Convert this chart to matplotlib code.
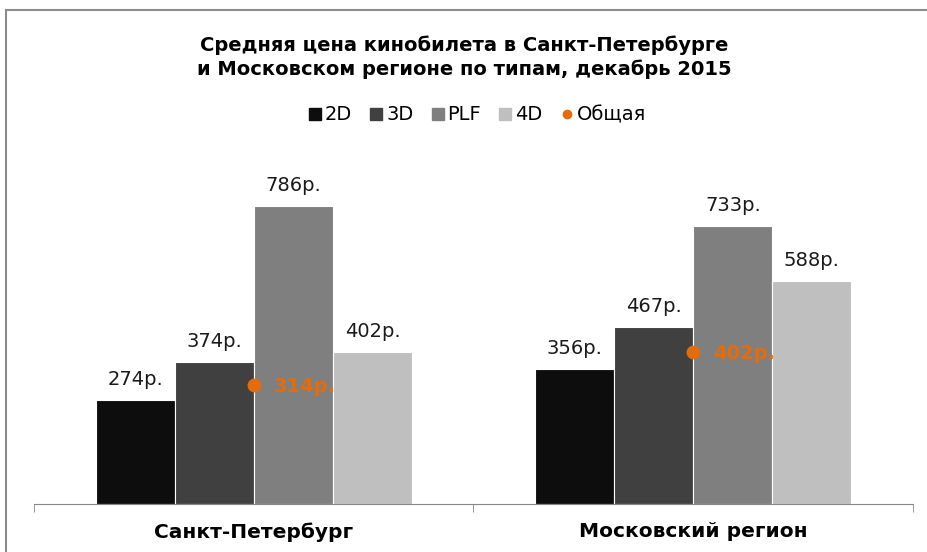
import matplotlib.pyplot as plt
from matplotlib.patches import Rectangle
from matplotlib.lines import Line2D

# data
regions = ["Санкт-Петербург", "Московский регион"]
types = ["2D", "3D", "PLF", "4D"]
prices = {
    "2D": [274, 356],
    "3D": [374, 467],
    "PLF": [786, 733],
    "4D": [402, 588],
}
overall = [314, 402]

colors = ["#0d0d0d", "#404040", "#7f7f7f", "#bfbfbf"]
orange = "#e46c0a"

fig = plt.figure(figsize=(9.28, 5.52), dpi=100)
ax = fig.add_axes([34 / 928, 48 / 552, 879 / 928, 341 / 552])

bar_w = 0.18
offsets = [-1.5, -0.5, 0.5, 1.5]
for t, off, c in zip(types, offsets, colors):
    xs = [i + off * bar_w for i in range(len(regions))]
    bars = ax.bar(xs, prices[t], width=bar_w, color=c, edgecolor="white", linewidth=0.8)
    for rect, v in zip(bars, prices[t]):
        ax.annotate(f"{v}р.", (rect.get_x() + rect.get_width() / 2, v),
                    xytext=(0, 8), textcoords="offset points",
                    ha="center", va="bottom", fontsize=14, color="#1a1a1a")

ax.plot(range(len(regions)), overall, "o", color=orange, markersize=9, zorder=5)
for i, v in enumerate(overall):
    ax.annotate(f"{v}р.", (i, v), xytext=(14, -1), textcoords="offset points",
                ha="left", va="center", fontsize=14, fontweight="bold", color=orange)

ax.set_xlim(-0.5, 1.5)
ax.set_ylim(0, 900)
ax.set_yticks([])
for s in ["left", "right", "top"]:
    ax.spines[s].set_visible(False)
ax.spines["bottom"].set_color("#888888")

ax.set_xticks([0, 1])
ax.set_xticklabels(regions, fontsize=14.5, fontweight="bold")
ax.tick_params(axis="x", which="major", length=0, pad=13)
ax.set_xticks([-0.5, 0.5, 1.5], minor=True)
ax.tick_params(axis="x", which="minor", length=5.5, color="#888888", direction="out")

fig.text(0.5, 1 - 57 / 552,
         "Средняя цена кинобилета в Санкт-Петербурге\nи Московском регионе по типам, декабрь 2015",
         ha="center", va="center", fontsize=14, fontweight="bold", linespacing=1.3)

handles = [Line2D([], [], marker="s", linestyle="", color=c, markersize=8) for c in colors]
handles.append(Line2D([], [], marker="o", linestyle="", color=orange, markersize=6))
fig.legend(handles, types + ["Общая"], loc="center", bbox_to_anchor=(477 / 928, 1 - 115 / 552),
           ncol=5, frameon=False, fontsize=14, handlelength=0.7, handletextpad=0.15,
           columnspacing=0.9)

# chart frame, cropped on the right and bottom like the reference
fig.patches.append(Rectangle((6 / 928, -10 / 552), 940 / 928, 552 / 552, transform=fig.transFigure,
                             fill=False, edgecolor="#8c8c8c", linewidth=1.5))

fig.savefig("out.png", dpi=100)
